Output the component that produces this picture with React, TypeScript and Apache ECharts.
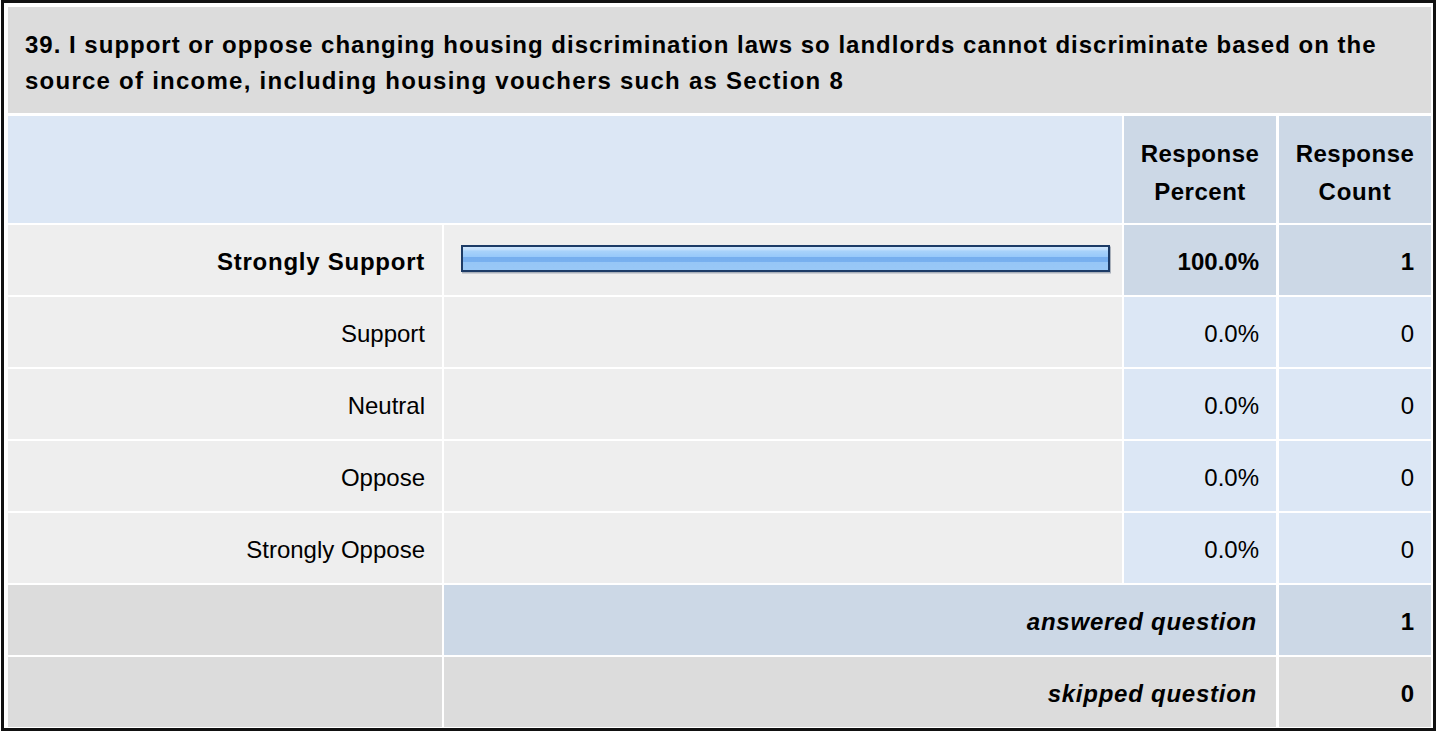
import React, { useEffect, useRef } from "react";
import * as echarts from "echarts";

const titleLines = [
  "39. I support or oppose changing housing discrimination laws so landlords cannot discriminate based on the",
  "source of income, including housing vouchers such as Section 8",
];
const categories = ["Strongly Support", "Support", "Neutral", "Oppose", "Strongly Oppose"];
const percents = [100.0, 0.0, 0.0, 0.0, 0.0];
const counts = [1, 0, 0, 0, 0];
const headerPercent = ["Response", "Percent"];
const headerCount = ["Response", "Count"];
const summaryLabels = ["answered question", "skipped question"];
const summaryCounts = [1, 0];

const FONT = "'Liberation Sans', Arial, Helvetica, sans-serif";
const GRAY = "#dcdcdc";
const ROWGRAY = "#eeeeee";
const LIGHTBLUE = "#dce7f5";
const MIDBLUE = "#ccd8e6";

export default function App() {
  const ref = useRef<HTMLDivElement>(null);
  useEffect(() => {
    document.body.style.margin = "0";
    const chart = echarts.init(ref.current!, null, { renderer: "svg" });

    const colL = [8, 442];
    const colB = [444, 1122];
    const colP = [1124, 1276];
    const colC = [1279, 1431];
    const rowTop = (i: number) => 225 + 72 * i;
    const rowH = 70;

    // letter spacing applied after render (SVG attribute) to wider bold text
    const spacing = new Map<string, string>();

    const rect = (x0: number, x1: number, y0: number, h: number, fill: string) => ({
      type: "rect",
      z: 0,
      silent: true,
      shape: { x: x0, y: y0, width: x1 - x0, height: h },
      style: { fill },
    });
    const text = (
      x: number,
      y: number,
      t: string,
      align: string,
      weight = "normal",
      fontStyle = "normal",
      ls = 0
    ) => {
      if (ls) spacing.set(t, ls + "px");
      return {
        type: "text",
        z: 5,
        silent: true,
        x,
        y,
        style: {
          text: t,
          fill: "#000",
          fontSize: 24,
          fontFamily: FONT,
          fontWeight: weight,
          fontStyle,
          align,
          verticalAlign: "middle",
        },
      };
    };

    const maxVal = Math.max(...percents);
    const elements: any[] = [];
    // title
    elements.push(rect(8, 1431, 7, 106, GRAY));
    elements.push(text(25, 44, titleLines[0], "left", "bold", "normal", 1));
    elements.push(text(25, 80.5, titleLines[1], "left", "bold", "normal", 1.25));
    // header
    elements.push(rect(8, 1122, 116, 107, LIGHTBLUE));
    elements.push(rect(colP[0], colP[1], 116, 107, MIDBLUE));
    elements.push(rect(colC[0], colC[1], 116, 107, MIDBLUE));
    elements.push(text(1200, 153.5, headerPercent[0], "center", "bold", "normal", 0.5));
    elements.push(text(1200, 191, headerPercent[1], "center", "bold", "normal", 0.5));
    elements.push(text(1355, 153.5, headerCount[0], "center", "bold", "normal", 0.5));
    elements.push(text(1355, 191, headerCount[1], "center", "bold", "normal", 0.7));
    // rows
    categories.forEach((c, i) => {
      const y = rowTop(i);
      const isMax = percents[i] === maxVal && maxVal > 0;
      const w = isMax ? "bold" : "normal";
      elements.push(rect(colL[0], colL[1], y, rowH, ROWGRAY));
      elements.push(rect(colB[0], colB[1], y, rowH, ROWGRAY));
      elements.push(rect(colP[0], colP[1], y, rowH, isMax ? MIDBLUE : LIGHTBLUE));
      elements.push(rect(colC[0], colC[1], y, rowH, isMax ? MIDBLUE : LIGHTBLUE));
      elements.push(text(425, y + 36.5, c, "right", w, "normal", isMax ? 0.75 : 0));
      elements.push(text(1259, y + 36.5, percents[i].toFixed(1) + "%", "right", w));
      elements.push(text(1414, y + 36.5, String(counts[i]), "right", w));
    });
    // summary rows
    summaryLabels.forEach((lab, k) => {
      const y = rowTop(5 + k);
      const mid = k === 0 ? MIDBLUE : GRAY;
      elements.push(rect(colL[0], colL[1], y, rowH, GRAY));
      elements.push(rect(colB[0], colP[1], y, rowH, mid));
      elements.push(rect(colC[0], colC[1], y, rowH, mid));
      elements.push(text(1257, y + 36.5, lab, "right", "bold", "italic", 0.75));
      elements.push(text(1414, y + 36.5, String(summaryCounts[k]), "right", "bold"));
    });
    // outer border
    elements.push({
      type: "rect",
      z: 10,
      silent: true,
      shape: { x: 2.5, y: 1.5, width: 1432, height: 728 },
      style: { fill: "none", stroke: "#111", lineWidth: 3 },
    });

    const applySpacing = () => {
      const root = ref.current;
      if (!root) return;
      root.querySelectorAll("text").forEach((el) => {
        const ls = spacing.get((el.textContent || "").trim());
        if (ls) el.setAttribute("letter-spacing", ls);
      });
    };
    chart.on("finished", applySpacing);
    chart.on("rendered", applySpacing);

    chart.setOption({
      animation: false,
      backgroundColor: "#ffffff",
      grid: { left: 461, right: 327, top: 222.5, height: 360 },
      xAxis: {
        type: "value",
        min: 0,
        max: 100,
        show: false,
      },
      yAxis: {
        type: "category",
        data: categories,
        inverse: true,
        show: false,
      },
      graphic: { elements },
      series: [
        {
          type: "bar",
          data: percents.map((v) => ({
            value: v,
            itemStyle: v > 0 ? {} : { borderWidth: 0, opacity: 0 },
          })),
          barWidth: 27,
          z: 3,
          silent: true,
          itemStyle: {
            borderColor: "#1d3a66",
            borderWidth: 2,
            shadowColor: "rgba(40,60,90,0.35)",
            shadowOffsetX: 1,
            shadowOffsetY: 1.5,
            shadowBlur: 0,
            color: {
              type: "linear",
              x: 0,
              y: 0,
              x2: 0,
              y2: 1,
              colorStops: [
                { offset: 0, color: "#d2e8fd" },
                { offset: 0.15, color: "#c0defc" },
                { offset: 0.2, color: "#a8d2fa" },
                { offset: 0.45, color: "#96c8fa" },
                { offset: 0.46, color: "#76aeee" },
                { offset: 0.64, color: "#78b0ef" },
                { offset: 0.65, color: "#96c6f6" },
                { offset: 1, color: "#9ac8f6" },
              ],
            },
          },
        },
      ],
    });
    setTimeout(applySpacing, 0);
    return () => chart.dispose();
  }, []);
  return <div ref={ref} style={{ width: 1437, height: 734, background: "#fff" }} />;
}
